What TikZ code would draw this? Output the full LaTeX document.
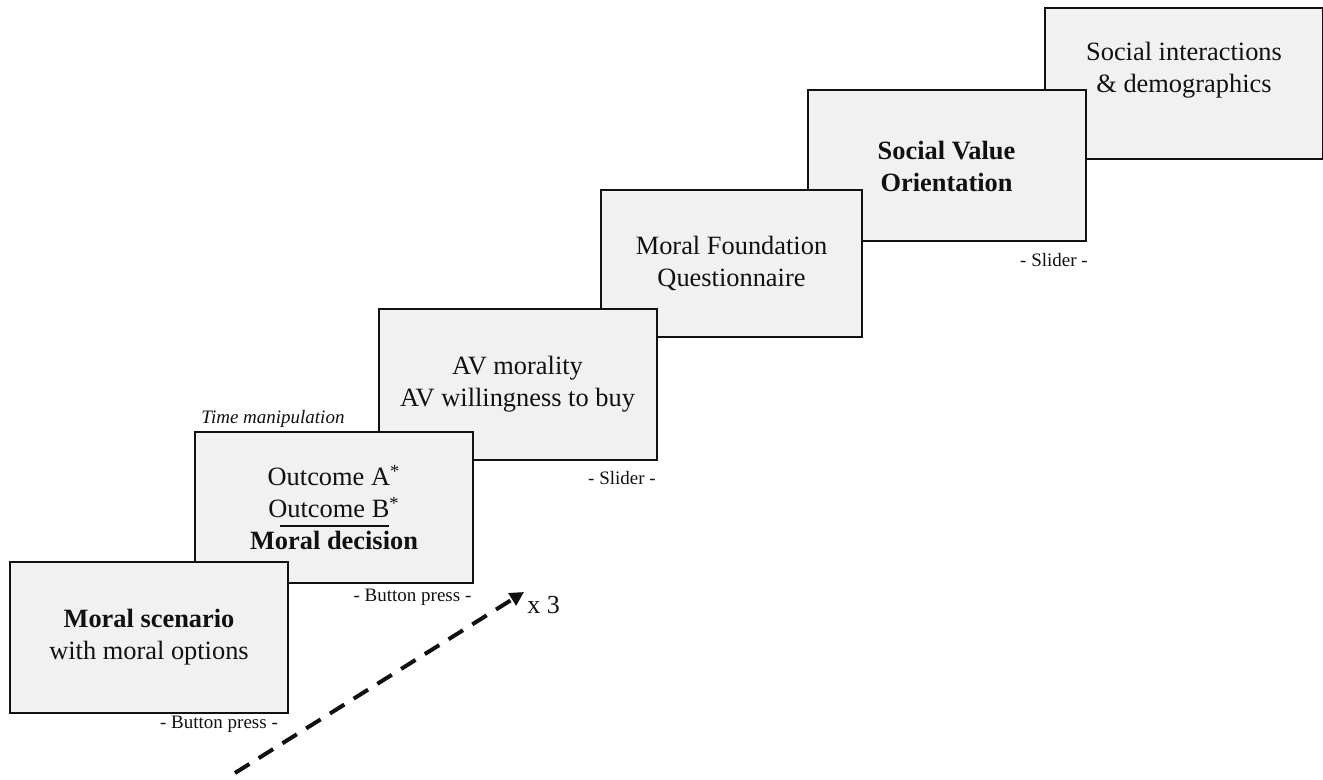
\documentclass[tikz,border=0pt]{standalone}
\usepackage{fontspec}
\setmainfont{Liberation Serif}
\usetikzlibrary{arrows.meta,positioning,calc}
\definecolor{StageFill}{HTML}{F1F1F1}
\definecolor{StageInk}{HTML}{111111}
\tikzset{
  stagebox/.style={draw=StageInk, line width=1pt, fill=StageFill, minimum width=139pt, minimum height=75.5pt, inner sep=0pt, align=center, font=\fontsize{13.2}{16}\selectfont, text=StageInk},
  steplabel/.style={font=\fontsize{9.5}{11}\selectfont, text=StageInk, inner sep=0pt},
  looparrow/.style={-{Triangle[length=7pt,width=7pt]}, line width=2pt, draw=StageInk, dash pattern=on 8.5pt off 5.5pt}
}
\begin{document}
\begin{tikzpicture}[x=0.5pt,y=-0.5pt]
\useasboundingbox (0,0) rectangle (1323,780);
% stages, drawn back to front
\node[stagebox] (soc) at (1184,83.5) {Social interactions\\ \& demographics\\ ~};
\node[stagebox] (svo) at (946.5,166) {\textbf{Social Value}\\ \textbf{Orientation}};
\node[stagebox, minimum width=130.5pt, minimum height=73.5pt] (mfq) at (731.5,263.5) {Moral Foundation\\ Questionnaire};
\node[stagebox] (avq) at (517.5,384.5) {AV morality\\ AV willingness to buy};
\node[stagebox] (dec) at (334,507.5) {Outcome A\textsuperscript{*}\\ Outcome B\textsuperscript{*}\\ \textbf{Moral decision}};
\draw[line width=0.6pt, StageInk] ($(dec.center)+(-54,18.5)$) -- ($(dec.center)+(55,18.5)$);
\node[stagebox] (scen) at (149,637.5) {\textbf{Moral scenario}\\ with moral options};
% response types
\node[steplabel] (bp1) at (219,724) {- Button press -};
\node[steplabel] (bp2) at (412.5,597) {- Button press -};
\node[steplabel] (sl1) at (622,478) {- Slider -};
\node[steplabel] (sl2) at (1054,260) {- Slider -};
\node[steplabel, font=\itshape\fontsize{9.5}{11}\selectfont] (time) at (273,419) {Time manipulation};
% repetition
\coordinate (loopstart) at (235,773);
\coordinate (loopend) at (524,592);
\draw[looparrow] (loopstart) -- (loopend);
\node[steplabel, font=\fontsize{13}{15}\selectfont, anchor=west] (reps) at (527,605) {x 3};
\end{tikzpicture}
\end{document}
